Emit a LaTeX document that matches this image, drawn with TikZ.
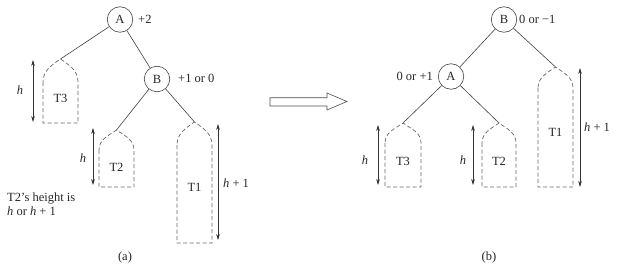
\documentclass[tikz,border=0pt]{standalone}
\usepackage{fontspec}
\setmainfont{Liberation Serif}
\usetikzlibrary{arrows.meta}

% dashed subtree outline: #1 name, #2 centre x, #3 bottom, #4 shoulder,
% #5 apex, #6 half width, #7 label, #8 label y
\newcommand\subtree[8]{%
  \draw[treeline] (#2-#6,#4) -- (#2-#6,#3) -- (#2+#6,#3) -- (#2+#6,#4)
     to[out=90,in=-35] (#2,#5) to[out=215,in=90] cycle;
  \coordinate (#1-top) at (#2,#5);
  \node[lbl] (#1) at (#2,#8) {#7};
}
% height marker: #1 name, #2 x, #3 top, #4 bottom
\newcommand\heightmark[4]{%
  \coordinate (#1-hi) at (#2,#3);
  \coordinate (#1-lo) at (#2,#4);
  \draw[hmark] (#1-hi) -- (#1-lo);
}

\begin{document}
\begin{tikzpicture}[x=1pt,y=1pt,
  every node/.style={font=\fontsize{12.5}{14}\selectfont, text=black!85},
  keynode/.style={circle, draw=black!75, line width=0.6pt, minimum size=25.5pt, inner sep=0pt},
  edge/.style={draw=black!75, line width=0.6pt},
  treeline/.style={draw=black!60, line width=0.7pt, dash pattern=on 4pt off 2.5pt},
  hmark/.style={draw=black!80, line width=0.6pt, {Stealth[length=6pt,width=3.6pt]}-{Stealth[length=6pt,width=3.6pt]}},
  lbl/.style={inner sep=0pt},
  bal/.style={inner sep=0pt, anchor=west},
]
\useasboundingbox (0,0) rectangle (620,271);

% ---------- (a) before rotation ----------
\node[keynode] (a-A) at (120,251.5) {A};
\node[bal] (a-A-bal) at (138,252) {+2};
\node[keynode] (a-B) at (157,192) {B};
\node[bal] (a-B-bal) at (178,193) {+1 or 0};

\subtree{a-T3}{60.5}{148}{189}{212}{17.5}{T3}{173}
\subtree{a-T2}{116.5}{84}{121}{141}{17.5}{T2}{104}
\subtree{a-T1}{194.5}{28}{126}{149}{17.5}{T1}{84}

\draw[edge] (a-A) -- (a-B);
\draw[edge] (a-A) -- (a-T3-top);
\draw[edge] (a-B) -- (a-T2-top);
\draw[edge] (a-B) -- (a-T1-top);

\heightmark{a-h3}{33}{211}{149}
\node[lbl] (a-h3-txt) at (20,181) {\itshape h};
\heightmark{a-h2}{93}{143}{86}
\node[lbl] (a-h2-txt) at (83,113) {\itshape h};
\heightmark{a-h1}{218}{147}{31}
\node[bal] (a-h1-txt) at (223,88) {{\itshape h} + 1};

\node[bal] (note1) at (7,72) {T2’s height is};
\node[bal] (note2) at (7,59.5) {{\itshape h} or {\itshape h} + 1};
\node[lbl] (cap-a) at (125,14) {(a)};

% ---------- rotation arrow ----------
\draw[draw=black!70, line width=0.6pt]
  (270,173.3) -- (327,173.3) -- (327,178) -- (347,169.5) -- (327,161)
  -- (327,165) -- (270,165) -- cycle;

% ---------- (b) after rotation ----------
\node[keynode] (b-B) at (504,251.5) {B};
\node[bal] (b-B-bal) at (519,252) {0 or −1};
\node[keynode] (b-A) at (451,194.5) {A};
\node[lbl, anchor=east] (b-A-bal) at (433,195) {0 or +1};

\subtree{b-T3}{403}{84}{128}{148}{18}{T3}{110}
\subtree{b-T2}{499}{84}{128}{148}{17}{T2}{110}
\subtree{b-T1}{555.5}{84}{183}{204}{17.5}{T1}{139}

\draw[edge] (b-B) -- (b-A);
\draw[edge] (b-B) -- (b-T1-top);
\draw[edge] (b-A) -- (b-T3-top);
\draw[edge] (b-A) -- (b-T2-top);

\heightmark{b-h3}{378}{146}{86}
\node[lbl] (b-h3-txt) at (365,111) {\itshape h};
\heightmark{b-h2}{473}{146}{86}
\node[lbl] (b-h2-txt) at (463,111) {\itshape h};
\heightmark{b-h1}{580}{203}{84}
\node[bal] (b-h1-txt) at (584,144) {{\itshape h} + 1};

\node[lbl] (cap-b) at (489,14) {(b)};
\end{tikzpicture}
\end{document}
